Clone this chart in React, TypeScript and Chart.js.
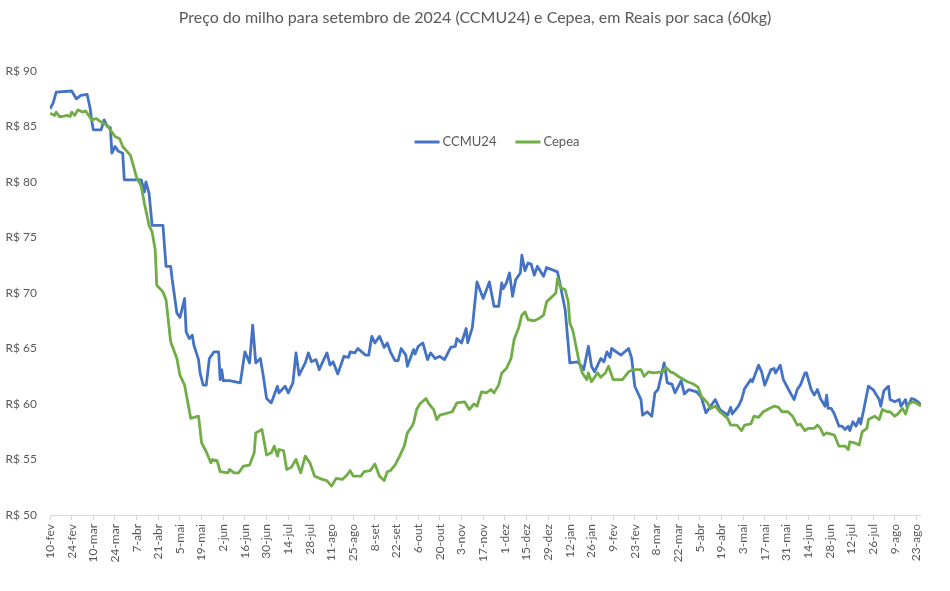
import { useEffect, useRef } from 'react';
import { Chart, registerables } from 'chart.js';

Chart.register(...registerables);

const FONT = 'Lato, "Open Sans", sans-serif';
const TEXT = '#595959';

const title = 'Preço do milho para setembro de 2024 (CCMU24) e Cepea, em Reais por saca (60kg)';

// x tick labels every 14 days starting 10-fev-2023
const tickLabels = ['10-fev', '24-fev', '10-mar', '24-mar', '7-abr', '21-abr', '5-mai', '19-mai', '2-jun', '16-jun', '30-jun', '14-jul', '28-jul', '11-ago', '25-ago', '8-set', '22-set', '6-out', '20-out', '3-nov', '17-nov', '1-dez', '15-dez', '29-dez', '12-jan', '26-jan', '9-fev', '23-fev', '8-mar', '22-mar', '5-abr', '19-abr', '3-mai', '17-mai', '31-mai', '14-jun', '28-jun', '12-jul', '26-jul', '9-ago', '23-ago'];

// days since 10-fev-2023
const ccmuDays = [0, 2, 4, 14, 17, 20, 24, 26, 27, 28, 33, 35, 37, 39, 40, 42, 44, 47, 48, 59, 61, 62, 64, 66, 73, 75, 78, 79, 82, 84, 87, 88, 90, 92, 93, 96, 97, 99, 101, 103, 106, 109, 110, 111, 112, 116, 123, 126, 129, 131, 133, 136, 138, 140, 143, 147, 148, 152, 154, 157, 159, 161, 165, 167, 169, 172, 174, 176, 179, 181, 183, 186, 190, 193, 194, 197, 199, 204, 206, 208, 210, 213, 216, 218, 220, 223, 225, 227, 230, 231, 235, 236, 238, 241, 244, 246, 249, 252, 255, 259, 262, 263, 266, 269, 270, 273, 276, 280, 284, 287, 290, 292, 293, 295, 297, 299, 301, 304, 305, 307, 309, 311, 313, 315, 319, 321, 328, 330, 333, 336, 341, 343, 345, 348, 350, 352, 356, 358, 360, 362, 363, 369, 374, 376, 378, 382, 383, 386, 389, 391, 393, 397, 399, 402, 404, 408, 410, 413, 418, 421, 424, 427, 430, 433, 438, 440, 441, 445, 447, 449, 453, 454, 458, 460, 462, 466, 468, 469, 472, 474, 477, 481, 483, 485, 488, 489, 492, 494, 496, 498, 501, 502, 503, 505, 507, 510, 512, 514, 516, 517, 519, 521, 523, 524, 526, 529, 532, 536, 537, 539, 542, 543, 546, 549, 550, 553, 554, 557, 559, 561, 563];
const ccmuValues = [86.6, 87.1, 88.1, 88.2, 87.5, 87.8, 87.9, 86.6, 85.5, 84.7, 84.7, 85.6, 85.0, 84.9, 82.6, 83.2, 82.8, 82.6, 80.2, 80.2, 79.1, 80.0, 79.0, 76.1, 76.1, 72.4, 72.4, 71.2, 68.2, 67.8, 69.5, 66.5, 65.9, 66.2, 65.3, 64.0, 62.8, 61.7, 61.7, 64.1, 64.7, 64.7, 62.2, 63.1, 62.1, 62.1, 61.9, 64.7, 63.7, 67.1, 63.7, 64.1, 62.4, 60.5, 60.1, 61.6, 61.0, 61.6, 61.0, 61.9, 64.6, 62.6, 63.7, 64.6, 63.8, 64.0, 63.1, 63.7, 64.6, 63.5, 63.8, 62.7, 64.3, 64.2, 64.7, 64.6, 65.0, 64.4, 64.4, 66.1, 65.5, 66.1, 65.1, 65.5, 64.7, 63.9, 63.9, 65.0, 64.4, 63.4, 64.9, 64.5, 65.2, 65.5, 64.0, 64.6, 64.1, 64.3, 64.0, 65.1, 65.2, 65.9, 65.5, 66.8, 65.5, 66.9, 71.0, 69.5, 71.0, 68.8, 68.8, 70.9, 70.4, 70.9, 71.8, 69.7, 71.2, 71.8, 73.4, 72.0, 72.7, 72.6, 71.6, 72.4, 71.5, 72.3, 71.9, 70.6, 68.5, 63.7, 63.8, 63.5, 63.1, 65.2, 63.4, 62.9, 64.1, 63.8, 64.7, 64.2, 65.0, 64.4, 65.0, 64.1, 61.6, 60.4, 59.0, 59.3, 58.9, 61.0, 61.3, 63.7, 61.9, 61.8, 61.0, 62.1, 60.9, 61.3, 61.1, 60.6, 59.2, 59.8, 60.4, 59.5, 59.0, 59.7, 59.1, 59.8, 60.4, 61.4, 62.2, 62.0, 63.5, 62.9, 61.7, 63.1, 63.2, 62.8, 63.5, 62.2, 61.4, 60.4, 61.3, 61.7, 62.8, 62.8, 61.3, 60.8, 61.3, 60.5, 59.8, 60.8, 59.6, 59.6, 59.1, 58.0, 58.0, 57.7, 58.0, 57.6, 58.4, 58.0, 58.7, 58.2, 59.5, 61.6, 61.3, 60.4, 59.8, 61.2, 61.6, 60.4, 60.2, 60.4, 59.8, 60.4, 59.7, 60.5, 60.4, 60.2, 59.9];

const cepeaDays = [0, 3, 4, 6, 8, 11, 13, 14, 16, 18, 21, 23, 25, 27, 30, 32, 37, 40, 42, 45, 47, 52, 54, 56, 59, 61, 64, 66, 68, 69, 73, 75, 78, 82, 84, 87, 91, 96, 98, 101, 104, 105, 108, 110, 115, 116, 119, 122, 125, 129, 132, 133, 137, 140, 143, 145, 147, 148, 151, 153, 156, 159, 162, 165, 168, 171, 176, 179, 182, 185, 189, 192, 194, 196, 201, 203, 207, 210, 213, 216, 218, 220, 223, 226, 229, 231, 234, 235, 237, 239, 243, 245, 248, 250, 252, 260, 263, 268, 271, 274, 276, 279, 282, 285, 287, 290, 292, 295, 298, 300, 303, 305, 307, 309, 313, 316, 319, 321, 327, 328, 330, 333, 335, 336, 338, 342, 344, 347, 348, 350, 354, 356, 359, 361, 364, 370, 374, 377, 382, 384, 387, 390, 396, 398, 401, 403, 406, 412, 416, 419, 421, 425, 427, 430, 433, 438, 440, 444, 447, 449, 453, 455, 458, 461, 465, 468, 471, 473, 477, 480, 483, 485, 488, 490, 494, 496, 498, 500, 502, 507, 510, 514, 516, 517, 520, 523, 525, 528, 529, 533, 536, 538, 541, 543, 546, 548, 551, 553, 555, 558, 561, 563];
const cepeaValues = [86.2, 86.0, 86.3, 85.9, 85.9, 86.0, 85.9, 86.3, 86.0, 86.5, 86.3, 86.4, 86.0, 85.6, 85.7, 85.5, 85.1, 84.5, 84.1, 83.9, 83.2, 82.4, 81.4, 80.4, 79.6, 78.1, 76.1, 75.5, 73.9, 70.7, 70.1, 69.4, 65.6, 64.1, 62.6, 61.7, 58.7, 58.9, 56.5, 55.7, 54.7, 55.0, 54.9, 53.9, 53.8, 54.1, 53.8, 53.8, 54.4, 54.5, 55.6, 57.4, 57.7, 55.4, 55.6, 56.2, 55.3, 55.9, 55.8, 54.1, 54.3, 55.0, 53.8, 55.3, 54.7, 53.5, 53.2, 53.1, 52.6, 53.3, 53.2, 53.6, 54.0, 53.5, 53.5, 53.9, 54.0, 54.6, 53.5, 53.1, 53.9, 54.0, 54.5, 55.3, 56.2, 57.4, 58.0, 58.3, 59.5, 60.0, 60.5, 60.0, 59.5, 58.6, 59.0, 59.3, 60.1, 60.2, 59.5, 60.0, 59.8, 61.1, 61.0, 61.3, 61.0, 61.7, 62.8, 63.2, 64.1, 65.8, 66.9, 68.0, 68.3, 67.6, 67.5, 67.7, 68.0, 69.2, 70.0, 71.3, 70.5, 70.3, 69.2, 67.3, 66.6, 63.8, 62.8, 62.2, 62.8, 62.0, 62.8, 62.4, 62.8, 63.4, 62.2, 62.2, 62.9, 63.1, 63.1, 62.5, 62.9, 62.8, 62.9, 63.3, 62.9, 62.8, 62.5, 62.0, 61.8, 61.5, 60.7, 60.1, 59.6, 59.8, 59.3, 58.7, 58.1, 58.1, 57.6, 58.1, 58.2, 58.9, 58.8, 59.3, 59.6, 59.8, 59.7, 59.3, 59.3, 58.9, 58.1, 58.2, 57.6, 57.8, 57.8, 58.1, 57.8, 57.2, 57.4, 57.2, 56.2, 56.2, 55.9, 56.6, 56.5, 56.3, 57.5, 57.8, 58.6, 58.9, 58.6, 59.5, 59.3, 59.3, 58.9, 59.1, 59.6, 59.1, 60.0, 60.2, 60.0, 59.8];

const seriesNames = ['CCMU24', 'Cepea'];
const seriesColors = ['#4472C4', '#70AD47'];

const xMax = 563;
const yMin = 50;
const yMax = 90;

export default function App() {
  const ref = useRef<HTMLCanvasElement>(null);

  useEffect(() => {
    if (!ref.current) return;

    const centeredTitle = {
      id: 'centeredTitle',
      afterDraw(chart: any) {
        const { ctx, width } = chart;
        ctx.save();
        ctx.font = `16px ${FONT}`;
        ctx.fillStyle = TEXT;
        ctx.textAlign = 'center';
        ctx.textBaseline = 'middle';
        ctx.fillText(title, width / 2, 18);
        ctx.restore();
      },
    };

    const insideLegend = {
      id: 'insideLegend',
      afterDraw(chart: any) {
        const { ctx, chartArea } = chart;
        ctx.save();
        ctx.font = `13px ${FONT}`;
        const lineLen = 25;
        const gap = 3;
        const itemGap = 19;
        const widths = seriesNames.map((n) => ctx.measureText(n).width);
        const total = widths.reduce((s, w) => s + lineLen + gap + w, 0) + itemGap * (seriesNames.length - 1);
        let x = chartArea.left + 447 - total / 2;
        const y = chartArea.top + 71;
        seriesNames.forEach((name, i) => {
          ctx.strokeStyle = seriesColors[i];
          ctx.lineWidth = 3;
          ctx.lineCap = 'butt';
          ctx.beginPath();
          ctx.moveTo(x, y);
          ctx.lineTo(x + lineLen, y);
          ctx.stroke();
          ctx.fillStyle = TEXT;
          ctx.textBaseline = 'middle';
          ctx.textAlign = 'left';
          ctx.fillText(name, x + lineLen + gap, y);
          x += lineLen + gap + widths[i] + itemGap;
        });
        ctx.restore();
      },
    };

    const chart = new Chart(ref.current, {
      type: 'line',
      data: {
        datasets: [
          {
            label: seriesNames[0],
            data: ccmuDays.map((d, i) => ({ x: d, y: ccmuValues[i] })),
            borderColor: seriesColors[0],
            backgroundColor: seriesColors[0],
            borderWidth: 2.8,
            pointRadius: 0,
            tension: 0,
            borderJoinStyle: 'round',
            order: 1,
          },
          {
            label: seriesNames[1],
            data: cepeaDays.map((d, i) => ({ x: d, y: cepeaValues[i] })),
            borderColor: seriesColors[1],
            backgroundColor: seriesColors[1],
            borderWidth: 2.8,
            pointRadius: 0,
            tension: 0,
            borderJoinStyle: 'round',
            order: 0,
          },
        ],
      },
      options: {
        animation: false,
        responsive: true,
        maintainAspectRatio: false,
        layout: { padding: { left: 0, right: 29, top: 71, bottom: 0 } },
        plugins: {
          legend: { display: false },
          tooltip: { enabled: false },
          title: { display: false },
        },
        scales: {
          x: {
            type: 'linear',
            min: 0,
            max: xMax,
            afterFit: (axis: any) => {
              axis.height = 76;
            },
            grid: {
              display: true,
              drawOnChartArea: false,
              drawTicks: true,
              tickLength: 5,
              color: '#d9d9d9',
            },
            border: { display: true, color: '#d9d9d9', width: 1 },
            ticks: {
              stepSize: 14,
              includeBounds: false,
              autoSkip: false,
              minRotation: 90,
              maxRotation: 90,
              padding: 4,
              color: TEXT,
              font: { family: FONT, size: 12 },
              callback: (v: any) => {
                const n = Number(v);
                return n % 14 === 0 ? tickLabels[Math.round(n / 14)] ?? '' : '';
              },
            },
          },
          y: {
            min: yMin,
            max: yMax,
            afterFit: (axis: any) => {
              axis.width = 50;
            },
            grid: { display: false, drawTicks: false },
            border: { display: false },
            ticks: {
              stepSize: 5,
              padding: 13,
              color: TEXT,
              font: { family: FONT, size: 12 },
              callback: (v: any) => `R$ ${v}`,
            },
          },
        },
      },
      plugins: [centeredTitle, insideLegend],
    });

    return () => chart.destroy();
  }, []);

  return (
    <div style={{ position: 'fixed', left: 0, top: 0, width: 950, height: 591, background: '#ffffff' }}>
      <canvas ref={ref} />
    </div>
  );
}
